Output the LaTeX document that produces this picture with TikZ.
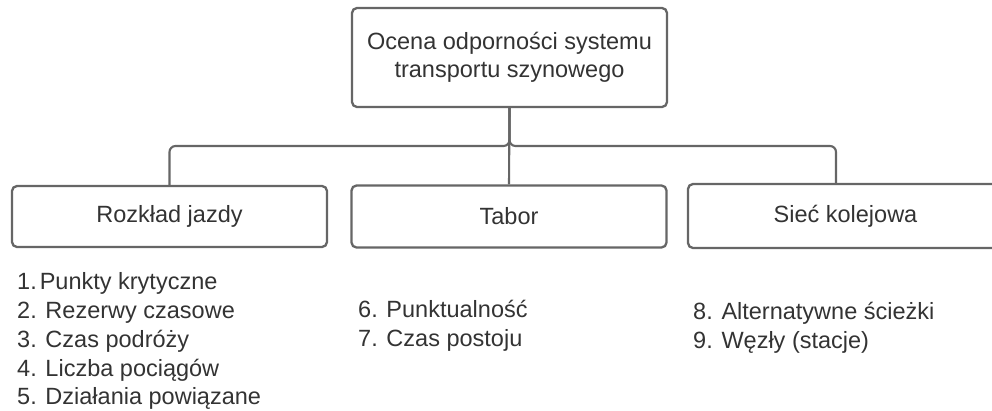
\documentclass[tikz,border=0pt]{standalone}
\usepackage{fontspec}
\setmainfont{Liberation Sans}
\usetikzlibrary{positioning}
\definecolor{edgegray}{HTML}{666666}
\definecolor{inkgray}{HTML}{333333}
\begin{document}
\begin{tikzpicture}[x=1pt,y=-1pt,
  box/.style={draw=edgegray, line width=2.3pt, rounded corners=5pt, fill=white,
    minimum width=315pt, inner sep=0pt, align=center, text=inkgray,
    font=\fontsize{23.5}{28}\selectfont},
  conn/.style={draw=edgegray, line width=2.1pt, rounded corners=6pt},
  item/.style={anchor=base west, inner sep=0pt, text=inkgray,
    font=\fontsize{23.5}{28}\selectfont}]
  \useasboundingbox (0,0) rectangle (992,410);

  % root and the three branches
  \node[box, minimum height=99pt] (root) at (509.5,57.5)
    {Ocena odporności systemu\\transportu szynowego};
  \node[box, minimum height=61pt] (roz) at (169.5,216.5) {Rozkład jazdy};
  \node[box, minimum height=62pt] (tab) at (509,216.5) {Tabor};
  \node[box, minimum height=64pt, minimum width=315pt] (sie) at (845.5,216) {Sieć kolejowa};

  % tree connectors
  \coordinate (bus) at (509.5,146);
  \coordinate (sietop) at (836,184);
  \draw[conn] (root.south) -- (tab.north);
  \draw[conn] (root.south) |- (bus -| roz.north) -- (roz.north);
  \draw[conn] (root.south) |- (bus -| sietop) -- (sietop);

  % indicator lists
  \node[item] (i1) at (17,289) {1.\kern3pt Punkty krytyczne};
  \node[item] (i2) at (17,318) {2. Rezerwy czasowe};
  \node[item] (i3) at (17,347) {3. Czas podróży};
  \node[item] (i4) at (17,376) {4. Liczba pociągów};
  \node[item] (i5) at (17,404) {5. Działania powiązane};

  \node[item] (i6) at (358,317) {6. Punktualność};
  \node[item] (i7) at (358,346) {7. Czas postoju};

  \node[item] (i8) at (693,319) {8. Alternatywne ścieżki};
  \node[item] (i9) at (693,348) {9. Węzły (stacje)};
\end{tikzpicture}
\end{document}
